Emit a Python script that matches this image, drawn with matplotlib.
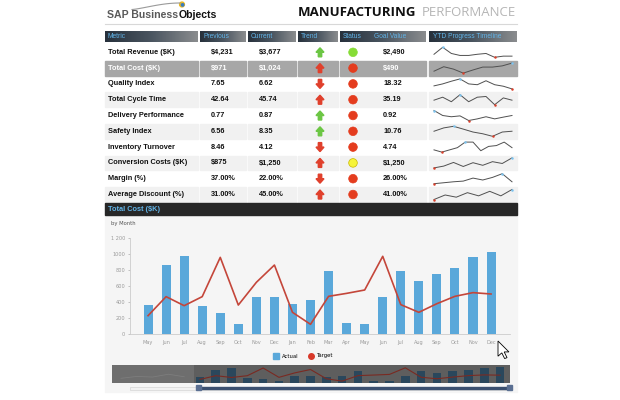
import numpy as np
import matplotlib.pyplot as plt
from matplotlib.patches import Rectangle, Polygon, Circle
from matplotlib.lines import Line2D
from matplotlib.colors import LinearSegmentedColormap

# ---- table data ----
metrics = ['Total Revenue ($K)', 'Total Cost ($K)', 'Quality Index', 'Total Cycle Time',
           'Delivery Performance', 'Safety Index', 'Inventory Turnover',
           'Conversion Costs ($K)', 'Margin (%)', 'Average Discount (%)']
previous = ['$4,231', '$971', '7.65', '42.64', '0.77', '6.56', '8.46', '$875', '37.00%', '31.00%']
current = ['$3,677', '$1,024', '6.62', '45.74', '0.87', '8.35', '4.12', '$1,250', '22.00%', '45.00%']
goal = ['$2,490', '$490', '18.32', '35.19', '0.92', '10.76', '4.74', '$1,250', '26.00%', '41.00%']
trend_dir = ['up', 'up', 'down', 'up', 'up', 'up', 'down', 'up', 'down', 'up']
trend_good = [True, False, False, False, True, True, False, False, False, False]
status = ['green', 'red', 'red', 'red', 'red', 'red', 'red', 'yellow', 'red', 'red']

spark = [
    [3.3, 9.3, 4, 2.3, 2.3, 3.3, 4, 0.7, 1.7, 1.7],
    [2.3, 6, 4, 0.7, 3.3, 5.7, 5.7, 6.7, 9],
    [3.3, 5, 7.3, 9.3, 5, 4.3, 7.7, 4.3, 3, 0.7],
    [4.4, 6.9, 3.1, 9, 3.1, 6.9, 7.5, 0.6, 6.3, 4.4],
    [9, 5, 4, 4.7, 1, 2.3, 4, 2.3, 3.7, 5],
    [4.7, 7.2, 8.4, 6.3, 4.1, 2.8, 0.9, 4.1, 4.7],
    [2.2, 0.6, 2.2, 3.8, 7.8, 7.8, 1.6, 4.7, 5.3, 7.8, 3.8],
    [0.9, 2.3, 5.1, 2, 4.9, 2.9, 5.7, 4.3, 8.6],
    [0.5, 1.2, 1.9, 2.4, 4.6, 3.2, 5.1, 7.8, 1.9],
    [0.7, 4.4, 2.6, 6.3, 3.7, 7.4, 3.7, 8.9],
]

# ---- chart data ----
months = ['May', 'Jun', 'Jul', 'Aug', 'Sep', 'Oct', 'Nov', 'Dec', 'Jan', 'Feb',
          'Mar', 'Apr', 'May', 'Jun', 'Jul', 'Aug', 'Sep', 'Oct', 'Nov', 'Dec']
actual = [367, 858, 971, 350, 258, 129, 458, 467, 379, 429,
          787, 137, 121, 467, 783, 658, 754, 821, 967, 1025]
target = [229, 467, 354, 467, 958, 362, 646, 862, 271, 121,
          471, 508, 550, 971, 367, 271, 379, 471, 517, 500]
earlier_target = [300, 420, 380, 560, 400]

BLUE_TXT = '#62b4e8'
FNT = ['Liberation Sans Narrow', 'Liberation Sans', 'DejaVu Sans']

fig = plt.figure(figsize=(6.2, 4.0), dpi=100)
bg = fig.add_axes([0, 0, 1, 1])
bg.set_xlim(0, 620)
bg.set_ylim(400, 0)
bg.axis('off')

# logo + title
r = fig.canvas.get_renderer()
t1 = bg.text(107, 15, 'SAP Business', fontsize=7.6, color='#5a5a5a', va='center', ha='left',
             family='Liberation Sans', fontweight='bold')
w = t1.get_window_extent(renderer=r).width
bg.text(107 + w + 0.3, 15, 'Objects', fontsize=7.6, color='#111111', va='center', ha='left',
        family='Liberation Sans', fontweight='bold')
t = np.linspace(0, 1, 30)
bg.plot(132 + 48 * t, 9.5 - 6.5 * np.sin(t * np.pi / 2) ** 1.3, color='#9a9a9a', lw=0.8)
bg.add_patch(Circle((182, 4.5), 2.4, color='#e8b820'))
bg.add_patch(Circle((182.6, 4.9), 1.2, color='#3a7cc0'))
bg.text(298, 12, 'MANUFACTURING', fontsize=9.5, color='#111111', va='center', ha='left',
        family='Open Sans', fontweight='bold')
bg.text(516, 12, 'PERFORMANCE', fontsize=9.5, color='#b5b5b5', va='center', ha='right',
        family='Open Sans')
bg.plot([105, 517], [24, 24], color='#d8d8d8', lw=0.8)

# table columns
cols = [(105, 198), (200, 246), (248, 296), (298, 338), (340, 426), (429, 517)]
grad = np.linspace(0, 1, 64).reshape(1, -1)
hcmap = LinearSegmentedColormap.from_list('h', ['#27313c', '#4a5560', '#8a8c8e'])
for x0, x1 in cols:
    bg.imshow(grad, cmap=hcmap, extent=(x0, x1, 42, 31), aspect='auto', zorder=1)
for x, lab in [(108, 'Metric'), (203, 'Previous'), (251, 'Current'), (301, 'Trend'),
               (343, 'Status'), (374, 'Goal Value'), (433, 'YTD Progress Timeline')]:
    bg.text(x, 36.5, lab, fontsize=4.8, color=BLUE_TXT, va='center', ha='left', family=FNT, zorder=2)
bg.set_xlim(0, 620)
bg.set_ylim(400, 0)

row_h = 15.8
for i, m in enumerate(metrics):
    yc = 52.3 + row_h * i
    if i == 1:
        fill = '#a7a7a7'
    elif i % 2 == 1:
        fill = '#f1f1f1'
    else:
        fill = None
    if fill:
        for x0, x1 in cols:
            bg.add_patch(Rectangle((x0, yc - 7.4), x1 - x0, 14.8, color=fill, zorder=0.5))
    tc = 'white' if i == 1 else '#111111'
    kw = dict(fontsize=5.3, color=tc, va='center', ha='left', family=FNT, fontweight='bold')
    bg.text(108, yc, m, **kw)
    bg.text(211, yc, previous[i], **kw)
    bg.text(259, yc, current[i], **kw)
    bg.text(383, yc, goal[i], **kw)
    # trend arrow
    cx = 320
    s = -1 if trend_dir[i] == 'up' else 1
    pts = [(cx - 1.7, yc - s * 4.5), (cx - 1.7, yc), (cx - 4, yc), (cx, yc + s * 4.5),
           (cx + 4, yc), (cx + 1.7, yc), (cx + 1.7, yc - s * 4.5)]
    bg.add_patch(Polygon(pts, closed=True, color='#6cc644' if trend_good[i] else '#e0402c', zorder=3))
    # status dot
    sc = {'green': '#86dc36', 'red': '#e43c1e', 'yellow': '#f6f43a'}[status[i]]
    bg.add_patch(Circle((353, yc), 4.3, facecolor=sc, edgecolor='#c9b800' if status[i] == 'yellow' else sc,
                        lw=0.5, zorder=3))
    # sparkline
    v = np.array(spark[i], dtype=float)
    xs = np.linspace(434, 512, len(v))
    ys = yc + 5 - (v - v.min()) / (v.max() - v.min()) * 10
    bg.plot(xs, ys, color='#505050', lw=0.7, zorder=3)
    bg.plot(xs[v.argmin()], ys[v.argmin()], 'o', ms=1.8, color='#d9402b', mec='none', zorder=4)
    bg.plot(xs[v.argmax()], ys[v.argmax()], 'o', ms=1.8, color='#7cc4f0', mec='none', zorder=4)

# chart panel
bg.add_patch(Rectangle((105, 203), 412, 12, color='#272727', zorder=0.5))
bg.text(108, 209.3, 'Total Cost ($K)', fontsize=5.3, color=BLUE_TXT, va='center', ha='left',
        family=FNT, fontweight='bold')
bg.add_patch(Rectangle((105, 215), 412, 177, color='#f5f5f5', zorder=0.2))
bg.text(111, 224, 'by Month', fontsize=3.8, color='#555555', va='center', ha='left')

# main chart
ax = fig.add_axes([130 / 620, 1 - 334 / 400, 380 / 620, 96 / 400])
ax.patch.set_alpha(0)
x = np.arange(len(months))
ax.bar(x, actual, width=0.5, color='#5aa8da', zorder=2)
ax.plot(x, target, color='#c4463a', lw=1.2, zorder=3)
ax.set_xlim(-1, 20.05)
ax.set_ylim(0, 1200)
ax.set_xticks(x)
ax.set_xticklabels(months)
ax.set_yticks([0, 200, 400, 600, 800, 1000, 1200])
ax.set_yticklabels(['0', '200', '400', '600', '800', '1000', '1 200'])
ax.tick_params(labelsize=3.6, colors='#9a9a9a', length=1.5, width=0.4, pad=2)
ax.tick_params(axis='x', length=0, pad=4)
for sp in ['top', 'right']:
    ax.spines[sp].set_visible(False)
for sp in ['left', 'bottom']:
    ax.spines[sp].set_color('#cccccc')
    ax.spines[sp].set_linewidth(0.6)

handles = [Line2D([], [], marker='s', ls='none', color='#5aa8da', ms=4),
           Line2D([], [], marker='o', ls='none', color='#d8392a', ms=4)]
fig.legend(handles, ['Actual', 'Target'], loc='center', bbox_to_anchor=(302 / 620, 1 - 356 / 400),
           ncol=2, frameon=False, fontsize=3.8, handletextpad=0.2, columnspacing=1.2)

# navigator
nav = fig.add_axes([112 / 620, 1 - 383 / 400, 398 / 620, 18 / 400])
nav.set_facecolor('#5e5e5e')
nav.set_xlim(-5.57, 19.63)
nav.set_ylim(0, 1150)
nav.axvspan(-5.57, -0.4, color='#6e6e6e', lw=0)
nav.bar(x, actual, width=0.55, color='#2a475c')
nav.plot(x, target, color='#7a2a22', lw=0.8)
nav.plot(np.arange(-5, 0), earlier_target, color='#7d7d7d', lw=0.6)
nav.set_xticks([])
nav.set_yticks([])
for sp in nav.spines.values():
    sp.set_visible(False)

# scrollbar
bg.add_patch(Rectangle((130, 386.5), 380, 3, facecolor='#f2f2f2', edgecolor='#cfcfcf', lw=0.4))
bg.add_patch(Rectangle((198, 386.8), 312, 2.6, color='#3b5070'))
bg.add_patch(Rectangle((195.5, 385.3), 5, 5, color='#5a6f92'))
bg.add_patch(Rectangle((506.5, 385.3), 5, 5, color='#5a6f92'))

# mouse cursor
cur = np.array([(0, 0), (0, 16), (4, 12.5), (7, 18.5), (9.5, 17.5), (6.5, 11.5), (11.5, 11.5)]) * 0.95
bg.add_patch(Polygon(cur + [498, 341], closed=True, facecolor='white', edgecolor='black', lw=0.6, zorder=5))

fig.savefig('out.png', dpi=100)
